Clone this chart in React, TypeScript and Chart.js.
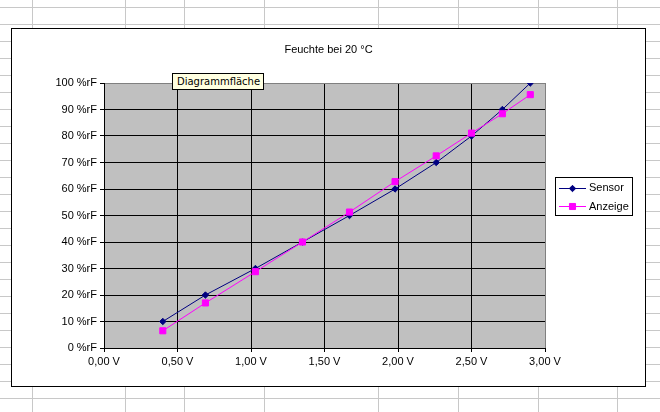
import React, { useEffect, useRef } from "react";
import { Chart, registerables } from "chart.js";
import { drawPoint } from "chart.js/helpers";

Chart.register(...registerables);

// ---- data ----
const chartTitle = "Feuchte bei 20 °C";
const seriesNames = ["Sensor", "Anzeige"];
const voltages = [0.4, 0.69, 1.03, 1.35, 1.67, 1.98, 2.26, 2.5, 2.71, 2.9];
const sensorValues = [10, 20, 30, 40, 50, 60, 70, 80, 90, 100];
const anzeigeValues = [6.5, 17, 28.8, 40, 51.3, 62.8, 72.5, 81.1, 88.4, 95.6];
const xRange = [0, 3];
const xStep = 0.5;
const yRange = [0, 100];
const yStep = 10;
const hoverLabel = "Diagrammfläche";

// ---- decoration (spreadsheet background) ----
const sheetColumns = [31.6, 125.4, 184.3, 264.3, 377.5, 457.5, 537.5, 617.4];
const sheetRowStart = 7;
const sheetRowStep = 17;

const FONT = "'Liberation Sans', Arial, sans-serif";

const plotBackground = {
  id: "plotBackground",
  beforeDraw(chart: any) {
    const { ctx, chartArea: a } = chart;
    ctx.save();
    ctx.fillStyle = "#c0c0c0";
    ctx.fillRect(a.left, a.top, a.right - a.left, a.bottom - a.top);
    ctx.restore();
  },
};

const boxLegend = {
  id: "boxLegend",
  afterDraw(chart: any) {
    const { ctx, chartArea: a } = chart;
    const bx = Math.round(a.right + 10);
    const by = Math.round(a.top + 94);
    const bw = 77;
    const bh = 38;
    ctx.save();
    ctx.fillStyle = "#ffffff";
    ctx.fillRect(bx, by, bw, bh);
    ctx.strokeStyle = "#000000";
    ctx.lineWidth = 1;
    ctx.strokeRect(bx + 0.5, by + 0.5, bw, bh);
    chart.data.datasets.forEach((ds: any, i: number) => {
      const y = by + 10.5 + i * 18.7;
      ctx.strokeStyle = ds.borderColor;
      ctx.lineWidth = 1;
      ctx.beginPath();
      ctx.moveTo(bx + 4, Math.round(y) + 0.5);
      ctx.lineTo(bx + 31, Math.round(y) + 0.5);
      ctx.stroke();
      ctx.fillStyle = ds.backgroundColor;
      ctx.strokeStyle = ds.borderColor;
      drawPoint(
        ctx,
        { pointStyle: ds.pointStyle, radius: ds.pointRadius, rotation: 0, borderWidth: 1 } as any,
        bx + 17.5,
        Math.round(y) + 0.5
      );
      ctx.fillStyle = "#000000";
      ctx.font = `11px ${FONT}`;
      ctx.textBaseline = "middle";
      ctx.textAlign = "left";
      ctx.fillText(ds.label, bx + 34, y + 0.5);
    });
    ctx.restore();
  },
};

function ChartCanvas() {
  const ref = useRef<HTMLCanvasElement | null>(null);

  useEffect(() => {
    if (!ref.current) return;
    const chart = new Chart(ref.current, {
      type: "scatter",
      data: {
        datasets: [
          {
            label: seriesNames[0],
            data: voltages.map((v, i) => ({ x: v, y: sensorValues[i] })),
            showLine: true,
            borderColor: "#000080",
            backgroundColor: "#000080",
            borderWidth: 1,
            pointStyle: "rectRot",
            pointRadius: 3.2,
            pointBorderWidth: 1,
            order: 1,
          },
          {
            label: seriesNames[1],
            data: voltages.map((v, i) => ({ x: v, y: anzeigeValues[i] })),
            showLine: true,
            borderColor: "#ff00ff",
            backgroundColor: "#ff00ff",
            borderWidth: 1,
            pointStyle: "rect",
            pointRadius: 4.3,
            pointBorderWidth: 1,
            order: 0,
          },
        ],
      },
      options: {
        responsive: false,
        animation: false,
        events: [],
        layout: { padding: 0 },
        plugins: {
          legend: { display: false },
          tooltip: { enabled: false },
          title: {
            display: true,
            text: chartTitle,
            color: "#000000",
            font: { family: FONT, size: 11, weight: "normal", lineHeight: 1.2 },
            padding: { top: 14, bottom: 26.8 },
          },
        },
        scales: {
          x: {
            type: "linear",
            min: xRange[0],
            max: xRange[1],
            ticks: {
              stepSize: xStep,
              color: "#000000",
              font: { family: FONT, size: 11 },
              padding: 3,
              maxRotation: 0,
              autoSkip: false,
              callback: (v: any) => Number(v).toFixed(2).replace(".", ",") + " V",
            },
            grid: {
              color: (c: any) => (c.tick && c.tick.value === xRange[1] ? "#808080" : "#000000"),
              tickColor: "#000000",
              tickLength: 4,
              lineWidth: 1,
            },
            border: { display: true, color: "#000000", width: 1 },
            afterFit: (s: any) => {
              s.height = 38;
            },
          },
          y: {
            type: "linear",
            min: yRange[0],
            max: yRange[1],
            ticks: {
              stepSize: yStep,
              color: "#000000",
              font: { family: FONT, size: 11 },
              padding: 3,
              autoSkip: false,
              callback: (v: any) => v + " %rF",
            },
            grid: {
              color: (c: any) => (c.tick && c.tick.value === yRange[1] ? "#808080" : "#000000"),
              tickColor: "#000000",
              tickLength: 4,
              lineWidth: 1,
            },
            border: { display: true, color: "#000000", width: 1 },
            afterFit: (s: any) => {
              s.width = 92;
            },
          },
          legendSpace: {
            type: "linear",
            position: "right",
            display: true,
            grid: { display: false, drawTicks: false },
            ticks: { display: false },
            border: { display: false },
            afterFit: (s: any) => {
              s.width = 100;
            },
          },
        },
      } as any,
      plugins: [plotBackground, boxLegend],
    });
    return () => chart.destroy();
  }, []);

  return <canvas ref={ref} width={633} height={357} style={{ display: "block" }} />;
}

export default function App() {
  const rows: number[] = [];
  for (let y = sheetRowStart; y < 412; y += sheetRowStep) rows.push(y);
  return (
    <div
      style={{
        position: "absolute",
        left: 0,
        top: 0,
        width: 660,
        height: 412,
        background: "#ffffff",
        overflow: "hidden",
      }}
    >
      {rows.map((y) => (
        <div
          key={"r" + y}
          style={{ position: "absolute", left: 0, top: y, width: 660, height: 1, background: "#c8c8c8" }}
        />
      ))}
      {sheetColumns.map((x) => (
        <div
          key={"c" + x}
          style={{ position: "absolute", left: Math.round(x), top: 0, width: 1, height: 412, background: "#c8c8c8" }}
        />
      ))}
      <div
        style={{
          position: "absolute",
          left: 11,
          top: 28,
          width: 635,
          height: 359,
          border: "1px solid #000000",
          boxSizing: "border-box",
          background: "#ffffff",
        }}
      >
        <ChartCanvas />
      </div>
      <div
        style={{
          position: "absolute",
          left: 172,
          top: 73,
          width: 92,
          height: 17,
          boxSizing: "border-box",
          border: "1px solid #000000",
          background: "#ffffe1",
          color: "#000000",
          fontFamily: "'DejaVu Sans', Tahoma, sans-serif",
          fontSize: 10,
          lineHeight: "15px",
          paddingLeft: 4,
          whiteSpace: "nowrap",
        }}
      >
        {hoverLabel}
      </div>
    </div>
  );
}
